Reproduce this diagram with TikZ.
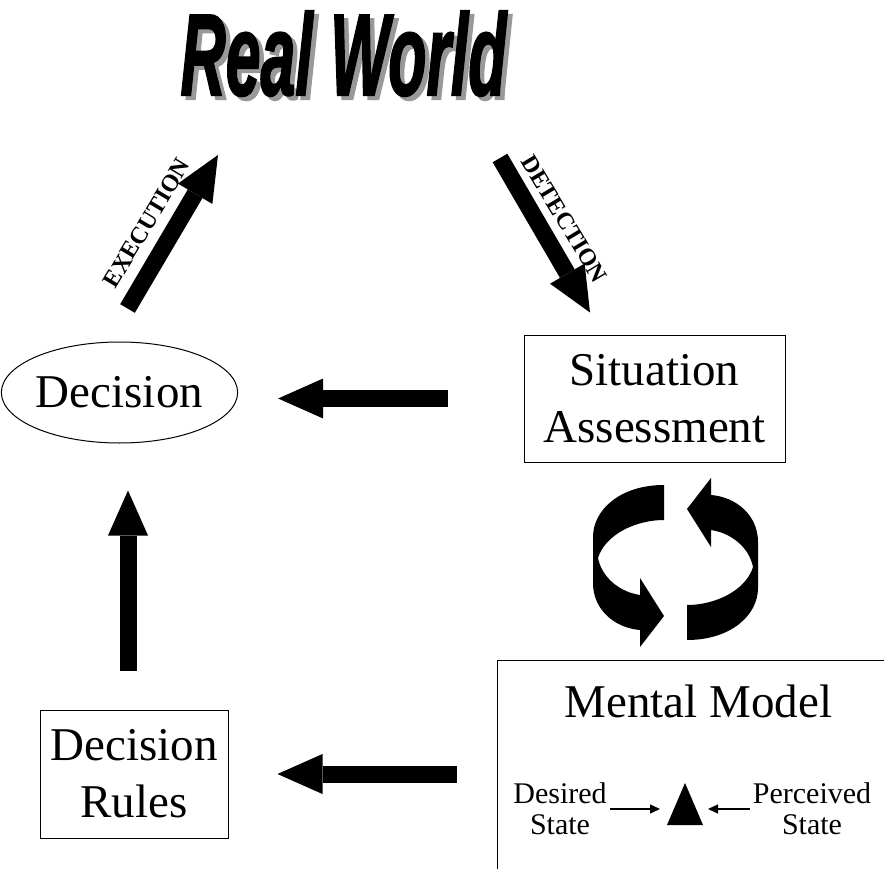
\documentclass[tikz,border=0pt]{standalone}
\usepackage{fontspec}
\setmainfont{Liberation Serif}
\newfontfamily\worldfont[FakeBold=2]{Liberation Sans}
\usepackage{tikz}
\usetikzlibrary{arrows.meta, shapes.geometric, positioning}
\tikzset{
    bigtext/.style={font=\fontsize{47}{57}\selectfont, align=center},
    box/.style={rectangle, draw, line width=1pt, bigtext, inner sep=0pt},
    oval/.style={ellipse, draw, line width=1pt, bigtext, inner sep=0pt},
    steplabel/.style={font=\fontsize{24}{24}\selectfont\bfseries, inner sep=0pt},
    smalltext/.style={font=\fontsize{30}{31}\selectfont, align=center, inner sep=3pt},
    worldtext/.style={font=\worldfont\bfseries\itshape\fontsize{116}{116}\selectfont, xscale=0.54, anchor=base},
    fatarrow/.style={line width=17pt, -{Triangle[length=45pt, width=40pt, line width=0pt]}},
    thinarrow/.style={line width=1.3pt, -{Triangle[length=10pt, width=9pt]}},
}

\begin{document}
\begin{tikzpicture}[x=1pt, y=-1pt]
    \useasboundingbox (0,0) rectangle (884,869);

    % title with its shadow
    \node[worldtext, text=black!40] at (348,99) {Real World};
    \node[worldtext] (world) at (343.5,95) {Real World};

    \node[oval, minimum width=217pt, minimum height=101pt] (decision) at (119.5,392.5) {Decision};
    \node[box, minimum width=261pt, minimum height=127pt] (sa) at (654.5,398.5) {Situation\\Assessment};
    \node[box, minimum width=188pt, minimum height=128pt] (rules) at (134,774) {Decision\\Rules};

    % mental model box, runs off the page
    \draw[line width=1pt] (497,880) |- (890,660);
    \coordinate (mmbox) at (497,774);
    \node[bigtext, anchor=base] (mental) at (698.5,717) {Mental Model};
    \node[smalltext] (desired) at (560,809) {Desired\\State};
    \node[smalltext] (perceived) at (812,809) {Perceived\\State};
    \coordinate (gap) at (685,806);
    \fill ([yshift=23pt]gap) -- ([shift={(18,19)}]gap) -- ([shift={(-18,19)}]gap) -- cycle;
    \draw[thinarrow, shorten >=25pt] (desired.east) -- (desired.east -| gap);
    \draw[thinarrow, shorten >=23pt] (perceived.west) -- (perceived.west -| gap);

    % block arrows
    \draw[fatarrow] ([shift={(8,-33)}]decision.north) -- ([shift={(-125.5,60)}]world.base)
        node[steplabel, midway, rotate=59, shift={(-6pt,27pt)}] (exec) {EXECUTION};
    \draw[fatarrow] ([shift={(156.5,63)}]world.base) -- ([shift={(-64.5,-22)}]sa.north)
        node[steplabel, midway, rotate=-59, shift={(-4pt,25pt)}] (detect) {DETECTION};
    \draw[fatarrow] ([xshift=-76pt]sa.west) -- ([xshift=40pt]sa.west -| decision.east);
    \draw[fatarrow] ([shift={(-6,-39)}]rules.north) -- ([shift={(8.5,47)}]decision.south);
    \draw[fatarrow] ([xshift=-40pt]mmbox) -- ([xshift=49pt]rules.east);

    % cycle between assessment and model
    \foreach \a in {0,180}
        \fill[rotate around={\a:(675.5,562.5)}] (664,485) .. controls (620,485) and (593,510) .. (593,537)
            -- (593,583) .. controls (593,610) and (615,628) .. (640,630) -- (640,647) -- (664,616)
            -- (640,578) -- (640,595) .. controls (620,592) and (602,578) .. (598,558)
            .. controls (605,535) and (635,520) .. (664,520) -- cycle;
\end{tikzpicture}
\end{document}
